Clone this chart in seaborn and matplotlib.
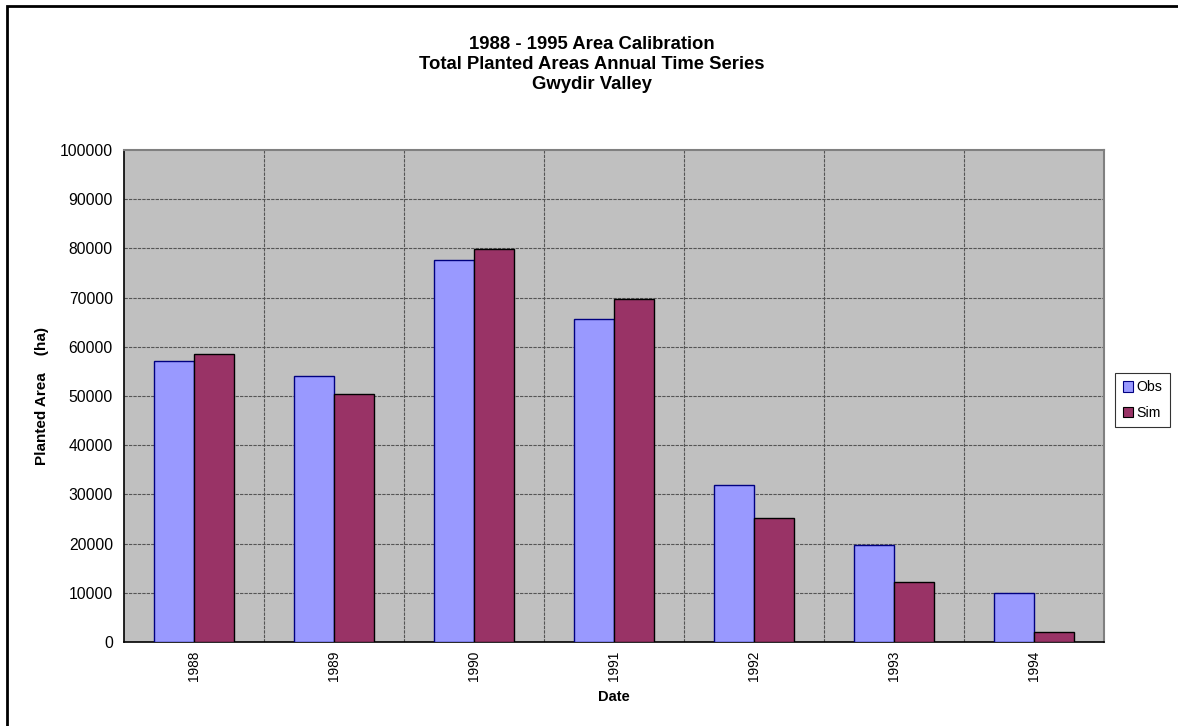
import matplotlib
matplotlib.use("Agg")
import matplotlib.pyplot as plt
import matplotlib.patches as mpatches
import numpy as np
import pandas as pd
import seaborn as sns

# Annual planted areas (ha), observed vs simulated
years = ["1988", "1989", "1990", "1991", "1992", "1993", "1994"]
obs = [57100, 54100, 77700, 65650, 31850, 19650, 9900]
sim = [58500, 50500, 79900, 69650, 25200, 12100, 1970]
series_names = ["Obs", "Sim"]
y_ticks = [0, 10000, 20000, 30000, 40000, 50000, 60000, 70000, 80000, 90000, 100000]

df = pd.DataFrame({
    "Date": years * 2,
    "Area": obs + sim,
    "Series": [series_names[0]] * len(years) + [series_names[1]] * len(years),
})

sns.set_style("white")
plt.rcParams["font.family"] = ["Liberation Sans", "DejaVu Sans"]
for key in ["text.color", "axes.labelcolor", "xtick.color", "ytick.color",
            "xtick.labelcolor", "ytick.labelcolor"]:
    plt.rcParams[key] = "black"

W, H = 1178, 726
fig = plt.figure(figsize=(W / 100, H / 100), dpi=100)
ax = fig.add_axes([124 / W, (H - 642) / H, (1104 - 124) / W, (642 - 150) / H])
ax.set_facecolor("#C0C0C0")

fills = {"Obs": "#9999FF", "Sim": "#993366"}
edges = {"Obs": "#000080", "Sim": "#000000"}
sns.barplot(data=df, x="Date", y="Area", hue="Series", order=years,
            hue_order=series_names, palette=fills, width=80 / 140, gap=0,
            saturation=1, ax=ax, legend=False, zorder=3)
for cont, name in zip(ax.containers, series_names):
    for bar in cont:
        bar.set_edgecolor(edges[name])
        bar.set_linewidth(1.0)

ax.set_xlim(-0.5, len(years) - 0.5)
ax.set_ylim(0, 100000)
ax.set_yticks(y_ticks)
ax.set_yticklabels([str(v) for v in y_ticks], fontsize=11.3)
ax.set_xticks(range(len(years)))
ax.set_xticklabels(years, rotation=90, fontsize=9.8)
ax.set_xticks(np.arange(-0.5, len(years), 1.0), minor=True)
ax.tick_params(axis="x", which="major", length=0, pad=6)
ax.tick_params(axis="x", which="minor", length=5, width=1, color="black", direction="out")
ax.tick_params(axis="y", which="major", length=5, width=1, color="black", direction="out", pad=3)

grid_kw = dict(color="#555555", linestyle=(0, (3, 1)), linewidth=0.8, zorder=1)
ax.grid(False)
for v in y_ticks[1:-1]:
    ax.axhline(v, **grid_kw)
for v in np.arange(0.5, len(years) - 1, 1.0):
    ax.axvline(v, **grid_kw)

for side in ["left", "bottom"]:
    ax.spines[side].set_color("black")
    ax.spines[side].set_linewidth(1.2)
for side in ["top", "right"]:
    ax.spines[side].set_color("#808080")
    ax.spines[side].set_linewidth(1.5)

ax.set_xlabel("Date", fontsize=10.5, fontweight="bold", labelpad=7)
ax.set_ylabel("Planted Area    (ha)", fontsize=11, fontweight="bold", labelpad=8)

fig.text(592 / W, 1 - 64.5 / H,
         "1988 - 1995 Area Calibration\nTotal Planted Areas Annual Time Series\nGwydir Valley",
         ha="center", va="center", fontsize=13.3, fontweight="bold", linespacing=1.24)

handles = [mpatches.Patch(facecolor=fills[n], edgecolor=edges[n], linewidth=0.8, label=n)
           for n in series_names]
leg = fig.legend(handles=handles, loc="center left", bbox_to_anchor=(1115 / W, 1 - 400 / H),
                 fontsize=10.2, frameon=True, fancybox=False, handlelength=0.75, handleheight=0.75,
                 handletextpad=0.2, borderpad=0.55, labelspacing=0.8, borderaxespad=0)
leg.get_frame().set_edgecolor("black")
leg.get_frame().set_linewidth(0.8)

# Chart-area frame (left and top edges visible)
frame = mpatches.Rectangle((7 / W, -0.05), 1.2, 1 - 6 / H + 0.05, transform=fig.transFigure,
                           fill=False, edgecolor="black", linewidth=2, clip_on=False)
fig.patches.append(frame)

fig.savefig("out.png", dpi=100, facecolor="white")
